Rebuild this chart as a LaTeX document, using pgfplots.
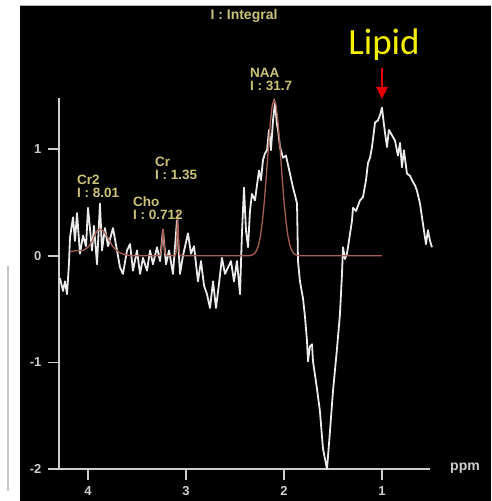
\documentclass[border=0pt]{standalone}
\usepackage{pgfplots}
\pgfplotsset{compat=1.18}
\usetikzlibrary{arrows.meta}
\usepackage{fontspec}
\setmainfont{Liberation Sans}
\newfontfamily\lipidfont{Carlito}
\definecolor{khaki}{RGB}{205,195,120}
\definecolor{fitbrown}{RGB}{165,95,85}
\definecolor{axgray}{RGB}{205,205,205}
\definecolor{lipidyellow}{RGB}{245,240,0}
\definecolor{arrowred}{RGB}{230,0,0}
\begin{document}
\begin{tikzpicture}[x=1pt,y=1pt]
\path[use as bounding box] (-59,-32) rectangle (432,469);
\fill[white] (-59,-32) rectangle (432,469);
\fill[black] (-39,-32) rectangle (432,463);
\draw[gray!60, line width=0.8pt] (-39,463.4) -- (432,463.4);
\draw[gray!45, line width=2pt] (-51,-22) -- (-51,203);
\begin{axis}[
  scale only axis, width=371pt, height=371pt,
  at={(0,0)}, anchor=south west,
  x dir=reverse, xmin=0.51, xmax=4.296, ymin=-2, ymax=1.48,
  axis x line*=bottom, axis y line*=left,
  axis line style={axgray, line width=1.6pt},
  xtick={1,2,3,4}, xticklabels={1,2,3,4},
  ytick={-2,-1,0,1}, yticklabels={-2,-1,0,1},
  tick align=outside, major tick length=11pt,
  tick style={axgray, line width=1.6pt},
  ticklabel style={font=\bfseries\fontsize{13}{15}\selectfont, text=axgray},
  xticklabel style={yshift=-3pt},
  yticklabel style={xshift=-3pt},
  clip=false,
]
\addplot[draw={rgb,255:red,235;green,235;blue,235}, line width=1.8pt, line join=round] coordinates {
(4.286,-0.21)(4.255,-0.33)(4.235,-0.24)(4.214,-0.36)(4.194,-0.07)(4.184,0.17)
(4.153,0.36)(4.133,0.14)(4.112,0.40)(4.082,0.02)(4.051,0.19)(4.020,0.09)
(4.000,0.45)(3.959,0.05)(3.939,0.28)(3.908,-0.08)(3.878,0.49)(3.857,0.05)
(3.827,0.26)(3.796,0.09)(3.765,0.19)(3.745,0.26)(3.704,0.05)(3.673,-0.11)
(3.643,-0.17)(3.602,0.05)(3.571,0.11)(3.541,-0.14)(3.500,0.05)(3.469,-0.17)
(3.439,-0.02)(3.398,-0.14)(3.367,0.05)(3.337,-0.08)(3.296,0.08)(3.265,-0.05)
(3.235,0.24)(3.204,-0.08)(3.173,0.05)(3.133,-0.17)(3.092,0.33)(3.061,-0.17)
(3.031,0.00)(2.980,0.21)(2.949,0.02)(2.918,0.09)(2.878,-0.24)(2.847,-0.05)
(2.816,-0.28)(2.786,-0.36)(2.755,-0.49)(2.724,-0.24)(2.694,-0.49)(2.663,-0.26)
(2.633,-0.02)(2.602,-0.17)(2.571,-0.11)(2.541,-0.05)(2.510,-0.24)(2.480,-0.05)
(2.449,-0.36)(2.429,0.21)(2.408,0.64)(2.388,0.24)(2.367,0.08)(2.347,0.42)
(2.327,0.58)(2.296,0.52)(2.276,0.66)(2.255,0.80)(2.235,0.71)(2.214,0.90)
(2.194,0.96)(2.173,0.99)(2.153,1.18)(2.133,0.99)(2.112,1.27)(2.092,1.43)
(2.071,1.23)(2.061,1.18)(2.041,1.02)(2.010,0.92)(1.980,0.94)(1.939,0.77)
(1.908,0.64)(1.888,0.57)(1.867,0.49)(1.857,-0.05)(1.837,-0.24)(1.806,-0.40)
(1.786,-0.57)(1.765,-0.80)(1.755,-0.99)(1.735,-0.85)(1.714,-0.83)(1.704,-0.99)
(1.663,-1.25)(1.633,-1.46)(1.602,-1.81)(1.561,-2.00)(1.531,-1.65)(1.500,-1.27)
(1.459,-0.87)(1.429,-0.55)(1.408,-0.17)(1.398,0.08)(1.378,-0.03)(1.357,0.02)
(1.337,0.14)(1.306,0.33)(1.296,0.45)(1.265,0.42)(1.224,0.52)(1.194,0.55)
(1.163,0.71)(1.143,0.87)(1.122,0.92)(1.102,1.02)(1.071,1.25)(1.041,1.27)
(1.020,1.32)(1.000,1.39)(0.980,1.23)(0.949,1.02)(0.929,1.18)(0.898,1.13)
(0.867,1.08)(0.837,0.94)(0.816,1.06)(0.796,0.83)(0.776,0.99)(0.745,0.77)
(0.714,0.75)(0.694,0.71)(0.663,0.66)(0.643,0.61)(0.612,0.49)(0.582,0.30)
(0.551,0.11)(0.531,0.24)(0.510,0.14)(0.490,0.08)
};
\addplot[draw=fitbrown, line width=1.3pt, line join=round] coordinates {
(4.18,0.04)(4.10,0.05)(4.05,0.05)(4.00,0.08)(3.96,0.13)(3.93,0.20)(3.90,0.24)
(3.87,0.25)(3.84,0.23)(3.81,0.19)(3.78,0.14)(3.75,0.09)(3.72,0.06)(3.68,0.03)
(3.62,0.01)(3.55,0.00)(3.27,0.00)(3.255,0.03)(3.245,0.13)(3.235,0.25)(3.225,0.13)
(3.215,0.03)(3.20,0.00)(3.11,0.00)(3.10,0.04)(3.093,0.18)(3.085,0.42)(3.077,0.18)
(3.07,0.04)(3.06,0.00)(2.36,0.00)(2.34,0.004)(2.32,0.009)(2.30,0.022)(2.28,0.049)
(2.26,0.100)(2.24,0.188)(2.22,0.324)(2.20,0.514)(2.18,0.751)(2.16,1.007)(2.14,1.242)
(2.12,1.410)(2.10,1.47)(2.08,1.410)(2.06,1.242)(2.04,1.007)(2.02,0.751)(2.00,0.514)
(1.98,0.324)(1.96,0.188)(1.94,0.100)(1.92,0.049)(1.90,0.022)(1.88,0.009)(1.86,0.004)
(1.84,0.00)(1.00,0.00)
};
\end{axis}
\node[anchor=west, inner sep=0pt, text=axgray, font=\bfseries\fontsize{14}{16}\selectfont] at (391,1) {ppm};
\node[text=khaki, inner sep=0pt, font=\bfseries\fontsize{14}{16}\selectfont] at (185,453) {I : Integral};
\begin{scope}[every node/.style={text=khaki, inner sep=0pt, anchor=north west, align=left, font=\bfseries\fontsize{13.5}{13}\selectfont}]
\node at (18,294) {Cr2\\I : 8.01};
\node at (74,272) {Cho\\I : 0.712};
\node at (96,312) {Cr\\I : 1.35};
\node at (191,401) {NAA\\I : 31.7};
\end{scope}
\node[anchor=base, inner sep=0pt, text=lipidyellow, font=\lipidfont\fontsize{37}{40}\selectfont] at (325,414) {Lipid};
\draw[arrowred, line width=2.6pt, -{Triangle[width=11pt,length=12pt]}] (323,401) -- (323,370);
\end{tikzpicture}
\end{document}
